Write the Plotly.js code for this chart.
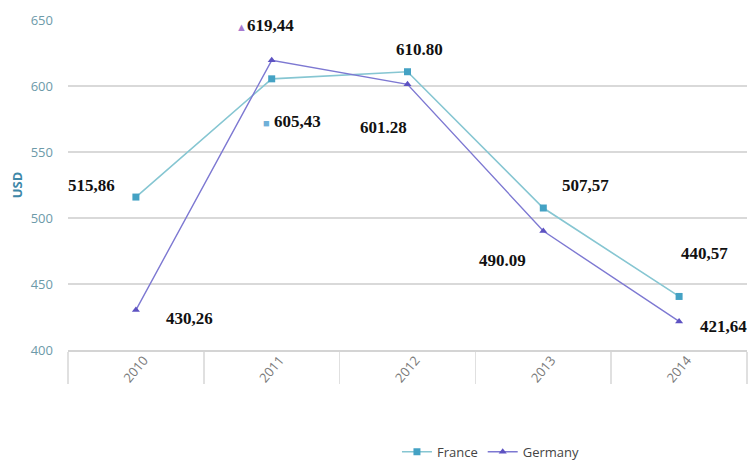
<!DOCTYPE html>
<html>
<head>
<meta charset="utf-8">
<script src="https://cdn.plot.ly/plotly-3.0.1.min.js"></script>
<style>html,body{margin:0;padding:0;background:#fff;}#chart{width:753px;height:461px;}#err{position:absolute;left:80px;top:100px;color:red;font-size:11px;}</style>
</head>
<body>
<div id="chart"></div>
<div id="err"></div>
<script>
var years = ['2010', '2011', '2012', '2013', '2014'];
var france = [515.86, 605.43, 610.80, 507.57, 440.57];
var germany = [430.26, 619.44, 601.28, 490.09, 421.64];
var franceLabels = ['515,86', '605,43', '610.80', '507,57', '440,57'];
var germanyLabels = ['430,26', '619,44', '601.28', '490.09', '421,64'];
var yTicks = [400, 450, 500, 550, 600, 650];

var franceShift = [[-44, 12], [20, -43], [12, 22], [42, 23], [25, 43]];
var germanyShift = [[54, -8], [-7, 35], [-24, -43], [-41, -29], [44, -5]];
var francePrefix = ['', '<span style="color:#6fb0d8;font-size:11px">■</span> ', '', '', ''];
var germanyPrefix = ['', '<span style="color:#a77bd0;font-size:11px">▲</span>', '', '', ''];

var annFont = {family: 'Liberation Serif', size: 17, color: '#111111'};
var annotations = [];
for (var i = 0; i < years.length; i++) {
  annotations.push({
    x: i, y: france[i], xref: 'x', yref: 'y', showarrow: false,
    text: '<b>' + francePrefix[i] + franceLabels[i] + '</b>',
    xshift: franceShift[i][0], yshift: franceShift[i][1], font: annFont
  });
  var ga = {
    x: i, y: germany[i], xref: 'x', yref: 'y', showarrow: false,
    text: '<b>' + germanyPrefix[i] + germanyLabels[i] + '</b>',
    xshift: germanyShift[i][0], yshift: germanyShift[i][1], font: annFont
  };
  if (i === 1) { ga.bgcolor = '#ffffff'; ga.borderpad = 13; }
  annotations.push(ga);
}

var traces = [
  {
    x: years, y: france, name: 'France', type: 'scatter', mode: 'lines+markers',
    line: {color: '#86c6d2', width: 1.6},
    marker: {symbol: 'square', size: 7, color: '#44a2c4'}
  },
  {
    x: years, y: germany, name: 'Germany', type: 'scatter', mode: 'lines+markers',
    line: {color: '#7d78d2', width: 1.4},
    marker: {symbol: 'triangle-up', size: 7, color: '#5d52c2'}
  }
];

var layout = {
  width: 753, height: 461,
  margin: {l: 68, r: 6, t: 20, b: 111, autoexpand: false},
  paper_bgcolor: '#ffffff', plot_bgcolor: '#ffffff',
  showlegend: true,
  legend: {
    orientation: 'h', xref: 'container', yref: 'container',
    x: 0.652, y: 0.02, xanchor: 'center', yanchor: 'middle',
    font: {family: 'Open Sans, sans-serif', size: 13, color: '#444444'}
  },
  xaxis: {
    type: 'category', range: [-0.5, 4.5],
    showgrid: false, showline: true, linecolor: '#d4d4d4', linewidth: 1.5,
    ticks: 'outside', tickson: 'boundaries', ticklen: 32, tickcolor: '#e0e0e0', tickwidth: 1.5,
    tickangle: -50, ticklabelstandoff: -4, ticklabelshift: 8,
    tickfont: {family: 'Open Sans, sans-serif', size: 13, color: '#7a7a7a'},
    fixedrange: true
  },
  yaxis: {
    range: [400, 650], tickvals: yTicks, ticktext: yTicks.map(String),
    showgrid: true, gridcolor: '#d9d9d9', gridwidth: 2,
    zeroline: false, showline: false, ticks: '', ticklabelstandoff: 14,
    tickfont: {family: 'Open Sans, sans-serif', size: 13, color: '#6d9aa9'},
    title: {text: '<b>USD</b>', font: {family: 'Open Sans, sans-serif', size: 13, color: '#3f88a8'}, standoff: 5},
    fixedrange: true
  },
  annotations: annotations
};

try {
  var p = Plotly.newPlot('chart', traces, layout, {displayModeBar: false, staticPlot: true});
  if (p && p.catch) p.catch(function (e) { document.getElementById('err').textContent = 'ERR ' + e; });
} catch (e) {
  document.getElementById('err').textContent = 'ERR ' + e;
}
</script>
</body>
</html>
